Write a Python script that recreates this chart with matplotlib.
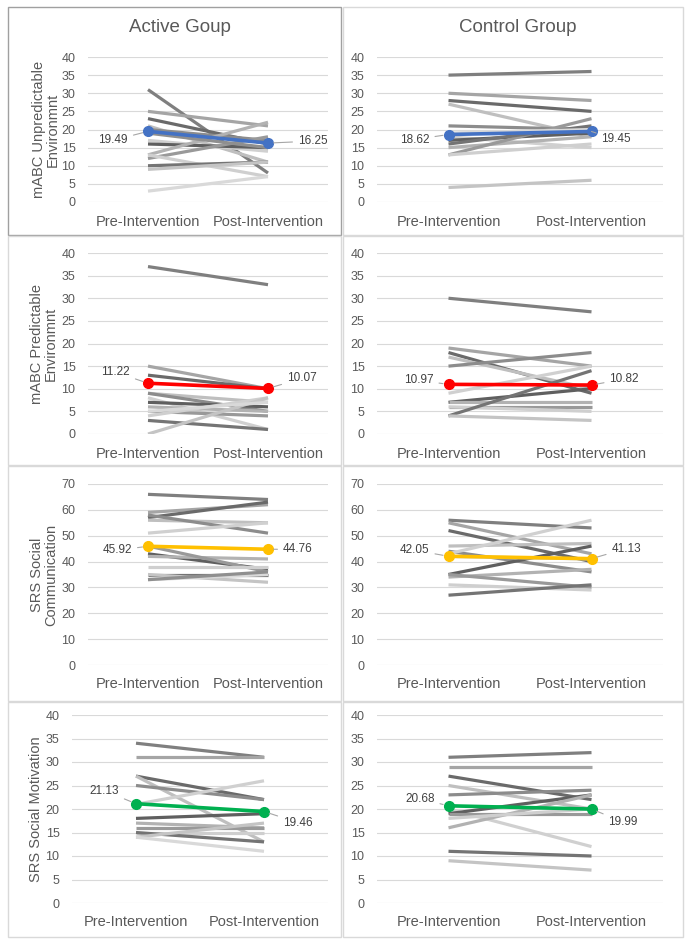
import matplotlib
matplotlib.use('Agg')
import matplotlib.pyplot as plt
from matplotlib.patches import Rectangle

plt.rcParams['font.family'] = ['Liberation Sans', 'DejaVu Sans']

W, H = 685, 944

categories = ['Pre-Intervention', 'Post-Intervention']
col_titles = ['Active Goup', 'Control Group']
row_labels = ['mABC Unpredictable\nEnvironmnt', 'mABC Predictable\nEnvironmnt',
              'SRS Social\nCommunication', 'SRS Social Motivation']
row_ymax = [40, 40, 70, 40]
row_ystep = [5, 5, 10, 5]

# individual participants: (pre, post)
active_unpred = [(31, 8), (25, 21), (23, 16), (21, 11), (20, 17), (17, 14), (16, 15),
                 (13, 22), (12, 18), (13, 7), (10, 11), (9, 11), (3, 7), (19, 15)]
control_unpred = [(35, 36), (30, 28), (28, 25), (27, 18), (21, 20), (18, 15), (17, 19),
                  (15, 18), (13, 23), (13, 16), (16, 21), (4, 6), (19, 20)]
active_pred = [(37, 33), (15, 10), (13, 10), (9, 7), (9, 5), (8, 1), (7, 6), (6, 5),
               (5, 4), (4, 8), (3, 1), (0, 8), (5, 7)]
control_pred = [(30, 27), (19, 15), (18, 9), (17, 10), (15, 18), (9, 15), (7, 10),
                (7, 7), (6, 6), (6, 5), (4, 14), (4, 3)]
active_comm = [(66, 64), (59, 62), (57, 63), (56, 55), (58, 51), (51, 55), (43, 37),
               (42, 41), (46, 36), (38, 38), (35, 35), (35, 32), (33, 35), (33, 36)]
control_comm = [(56, 53), (55, 43), (52, 40), (46, 47), (44, 36), (43, 56), (35, 46),
                (34, 37), (35, 30), (31, 29), (27, 31), (42, 41)]
active_motiv = [(34, 31), (31, 31), (27, 22), (27, 13), (25, 22), (21, 26), (18, 19),
                (17, 16), (16, 16), (15, 15), (15, 13), (14, 17), (14, 11)]
control_motiv = [(31, 32), (29, 29), (27, 22), (25, 20), (23, 24), (20, 12), (19, 23),
                 (16, 23), (19, 19), (18, 20), (11, 10), (9, 7)]

# group means: (pre, post)
means = [[(19.49, 16.25), (18.62, 19.45)],
         [(11.22, 10.07), (10.97, 10.82)],
         [(45.92, 44.76), (42.05, 41.13)],
         [(21.13, 19.46), (20.68, 19.99)]]
mean_colors = ['#4472c4', '#ff0000', '#ffc000', '#00b050']

subjects = [[active_unpred, control_unpred],
            [active_pred, control_pred],
            [active_comm, control_comm],
            [active_motiv, control_motiv]]

grays = ['#7f7f7f', '#a5a5a5', '#6a6a6a', '#bfbfbf', '#8c8c8c', '#d0d0d0',
         '#5f5f5f', '#b2b2b2', '#999999', '#cfcfcf', '#747474', '#c4c4c4',
         '#d9d9d9', '#8f8f8f']

# axes pixel boxes: (x0, x1, ytop, ybottom)
col_x = [(88, 328), (377, 663)]
row_y = [(57, 202), (253, 434), (484, 665), (715, 903)]
# panel frames
frame_x = [(8, 341), (343, 683)]
frame_y = [(7, 235), (236, 465), (466, 701), (702, 937)]
ylabel_x = [46, 44, 44, 36]

# label offsets in pixels: (dx_pre, dy_pre, dx_post, dy_post)
label_offsets = [[(-20, -9, 30, 2), (-19, -5, 10, -8)],
                 [(-18, 11, 19, 10), (-15, 4, 18, 6)],
                 [(-16, -4, 15, 0), (-19, 6, 20, 10)],
                 [(-17, 13, 19, -11), (-14, 7, 17, -13)]]

fig = plt.figure(figsize=(W / 100, H / 100), dpi=100)

for r in range(4):
    for c in range(2):
        fx0, fx1 = frame_x[c]
        fy0, fy1 = frame_y[r]
        ec = '#a0a0a0' if (r == 0 and c == 0) else '#d9d9d9'
        fig.patches.append(Rectangle((fx0 / W, 1 - fy1 / H), (fx1 - fx0) / W, (fy1 - fy0) / H,
                                     transform=fig.transFigure, fill=False, ec=ec, lw=1.0))

        x0, x1 = col_x[c]
        if r == 3 and c == 0:
            x0 = 72
        yt, yb = row_y[r]
        ax = fig.add_axes([x0 / W, 1 - yb / H, (x1 - x0) / W, (yb - yt) / H])

        for i, (pre, post) in enumerate(subjects[r][c]):
            ax.plot([0, 1], [pre, post], color=grays[i % len(grays)], lw=2.3,
                    solid_capstyle='butt', zorder=2)

        mpre, mpost = means[r][c]
        ax.plot([0, 1], [mpre, mpost], color=mean_colors[r], lw=2.6, marker='o',
                ms=7, zorder=4)

        dxa, dya, dxb, dyb = label_offsets[r][c]
        for xv, yv, dx, dy, ha in [(0, mpre, dxa, dya, 'right'), (1, mpost, dxb, dyb, 'left')]:
            ax.annotate(f'{yv:.2f}', xy=(xv, yv), xytext=(dx, dy), textcoords='offset pixels',
                        ha=ha, va='center', fontsize=8.5, color='#404040', zorder=5,
                        arrowprops=dict(arrowstyle='-', color='#a6a6a6', lw=0.8,
                                        shrinkA=2, shrinkB=4))

        ax.set_xlim(-0.5, 1.5)
        ax.set_ylim(0, row_ymax[r])
        ax.set_yticks(range(0, row_ymax[r] + 1, row_ystep[r]))
        ax.set_xticks([0, 1])
        ax.set_xticklabels(categories, fontsize=10.5)
        ax.tick_params(axis='y', length=0, labelsize=9, colors='#595959', pad=9)
        ax.tick_params(axis='x', length=0, colors='#595959', pad=9)
        ax.yaxis.grid(True, color='#d9d9d9', lw=0.8)
        ax.set_axisbelow(True)
        for s in ax.spines.values():
            s.set_visible(False)

        if r == 0:
            fig.text(((fx0 + fx1) / 2 + 5) / W, 1 - 28 / H, col_titles[c], ha='center',
                     va='center', fontsize=13.5, color='#595959')
        if c == 0:
            fig.text(ylabel_x[r] / W, 1 - ((yt + yb) / 2) / H, row_labels[r], rotation=90,
                     ha='center', va='center', fontsize=10.5, color='#595959',
                     multialignment='center', linespacing=1.0)

fig.savefig('out.png', dpi=100)
